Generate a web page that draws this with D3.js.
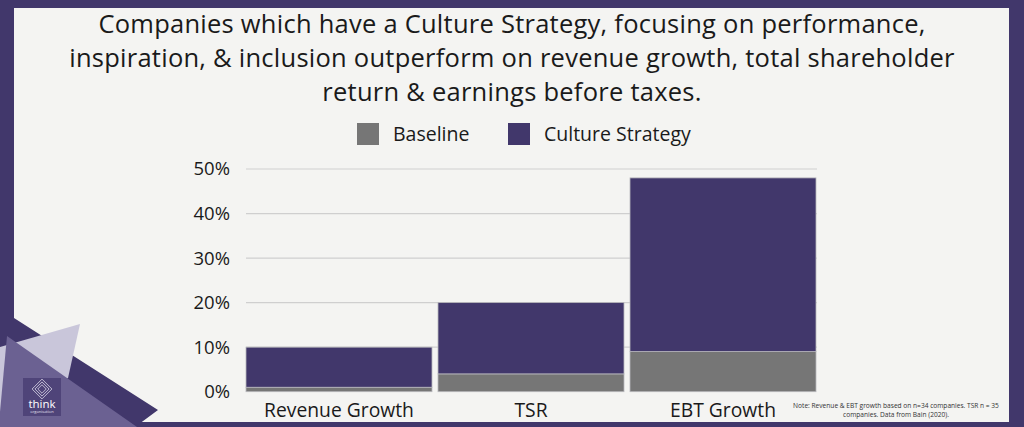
<!DOCTYPE html>
<html>
<head>
<meta charset="utf-8">
<script src="https://cdn.jsdelivr.net/npm/d3@7"></script>
<style>
  html, body { margin: 0; padding: 0; background: #f4f4f2; }
  svg { display: block; font-family: "Open Sans", sans-serif; }
</style>
</head>
<body>
<svg id="mySvg"></svg>
<script>
const width = 1024;
const height = 427;

// chart data
const categories = ["Revenue Growth", "TSR", "EBT Growth"];
const seriesNames = ["Baseline", "Culture Strategy"];
const baseline = [1, 4, 9];
const culture = [9, 16, 39]; // stacked on top of baseline
const yTicks = [0, 10, 20, 30, 40, 50];
const titleLines = [
  "Companies which have a Culture Strategy, focusing on performance,",
  "inspiration, & inclusion outperform on revenue growth, total shareholder",
  "return & earnings before taxes."
];
const noteLines = [
  "Note: Revenue & EBT growth based on n=34 companies. TSR n = 35",
  "companies. Data from Bain (2020)."
];

const purple = "#41376b";
const grey = "#767676";
const colors = [grey, purple];

const svg = d3.select("#mySvg").attr("width", width).attr("height", height);

// frame
svg.append("rect").attr("width", width).attr("height", height).attr("fill", purple);
svg.append("rect")
  .attr("x", 14).attr("y", 8)
  .attr("width", 1009 - 14).attr("height", 422 - 8)
  .attr("fill", "#f4f4f2");

// title
svg.append("g")
  .selectAll("text")
  .data(titleLines)
  .enter()
  .append("text")
  .attr("x", 512)
  .attr("y", (d, i) => 33 + i * 34)
  .attr("text-anchor", "middle")
  .attr("font-size", 25.5)
  .attr("letter-spacing", 0.25)
  .attr("fill", "#1a1a1a")
  .text(d => d);

// legend
const legend = svg.append("g")
  .selectAll("g")
  .data(seriesNames)
  .enter()
  .append("g")
  .attr("transform", (d, i) => `translate(${[357, 508][i]}, 123)`);

legend.append("rect")
  .attr("width", 22).attr("height", 22)
  .attr("fill", (d, i) => colors[i]);

legend.append("text")
  .attr("x", 36).attr("y", 11)
  .attr("dy", "0.35em")
  .attr("font-size", 19.5)
  .attr("fill", "#1a1a1a")
  .text(d => d);

// scales
const x = d3.scaleBand()
  .domain(categories)
  .range([243, 819])
  .paddingInner(0.03125)
  .paddingOuter(0.0156);

const y = d3.scaleLinear()
  .domain([0, 50])
  .range([391.7, 169]);

// gridlines
svg.append("g")
  .selectAll("line")
  .data(yTicks.slice(1))
  .enter()
  .append("line")
  .attr("x1", 246).attr("x2", 817)
  .attr("y1", d => y(d)).attr("y2", d => y(d))
  .attr("stroke", "#cfcfcf")
  .attr("stroke-width", 1.2);

// y axis labels
svg.append("g")
  .selectAll("text")
  .data(yTicks)
  .enter()
  .append("text")
  .attr("x", 230)
  .attr("y", d => y(d))
  .attr("dy", "0.35em")
  .attr("text-anchor", "end")
  .attr("font-size", 18.5)
  .attr("fill", "#1a1a1a")
  .text(d => d + "%");

// stacked bars
const table = categories.map((c, i) => ({ cat: c, Baseline: baseline[i], "Culture Strategy": culture[i] }));
const stacked = d3.stack().keys(seriesNames)(table);

svg.append("g")
  .selectAll("g")
  .data(stacked)
  .enter()
  .append("g")
  .attr("fill", (d, i) => colors[i])
  .selectAll("rect")
  .data(d => d)
  .enter()
  .append("rect")
  .attr("x", d => x(d.data.cat))
  .attr("y", d => y(d[1]))
  .attr("width", x.bandwidth())
  .attr("height", d => y(d[0]) - y(d[1]))
  .attr("stroke", "#b9b9bd")
  .attr("stroke-width", 0.8);

// x axis labels
svg.append("g")
  .selectAll("text")
  .data(categories)
  .enter()
  .append("text")
  .attr("x", d => x(d) + x.bandwidth() / 2)
  .attr("y", 417)
  .attr("text-anchor", "middle")
  .attr("font-size", 19.3)
  .attr("fill", "#1a1a1a")
  .text(d => d);

// note
svg.append("g")
  .selectAll("text")
  .data(noteLines)
  .enter()
  .append("text")
  .attr("x", 896)
  .attr("y", (d, i) => 408 + i * 9)
  .attr("text-anchor", "middle")
  .attr("font-size", 6.6)
  .attr("fill", "#333")
  .text(d => d);

// bottom-left decoration
const deco = svg.append("g");
deco.append("polygon")
  .attr("points", "0,300 14,300 14,318 158,410 135,427 0,427")
  .attr("fill", purple);
deco.append("polygon")
  .attr("points", "80,324 68,378 0,412 0,347")
  .attr("fill", "#c9c6da");
deco.append("polygon")
  .attr("points", "7,336 137,427 0,427 0,412")
  .attr("fill", "#6b6192");

// logo
const logo = deco.append("g").attr("transform", "translate(23, 378)");
logo.append("rect").attr("width", 38).attr("height", 38).attr("fill", "#4f4479");
[7, 5, 3].forEach(r => {
  logo.append("rect")
    .attr("x", 19 - r).attr("y", 11 - r)
    .attr("width", 2 * r).attr("height", 2 * r)
    .attr("transform", "rotate(45, 19, 11)")
    .attr("fill", "none")
    .attr("stroke", "#e6e3f0")
    .attr("stroke-width", 0.7);
});
logo.append("text")
  .attr("x", 19).attr("y", 29.5)
  .attr("text-anchor", "middle")
  .attr("font-size", 11.5)
  .attr("fill", "#ffffff")
  .text("think");
logo.append("text")
  .attr("x", 19).attr("y", 35)
  .attr("text-anchor", "middle")
  .attr("font-size", 4)
  .attr("fill", "#e6e3f0")
  .text("organisation");
</script>
</body>
</html>
